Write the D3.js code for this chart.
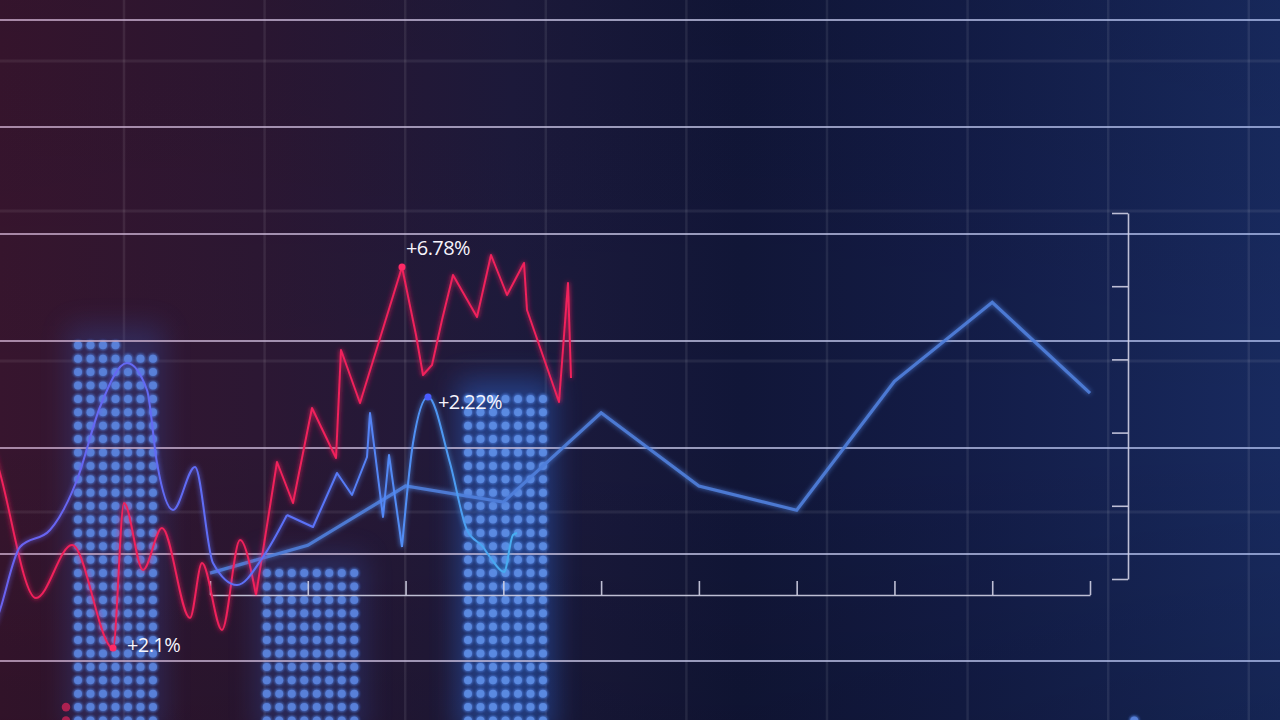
<!DOCTYPE html>
<html><head><meta charset="utf-8">
<script src="https://cdn.jsdelivr.net/npm/d3@7"></script>
<style>html,body{margin:0;padding:0;background:#141838;overflow:hidden}svg{display:block}</style>
</head><body>
<svg id="c" width="1280" height="720"></svg>
<script>
// ---------- data ----------
const periods = ["1","2","3","4","5","6","7","8","9","10"];
const lightValues = [0.08,0.46,1.27,1.05,2.27,1.27,0.94,2.70,3.78,2.54];
const rightTicks = [0,1,2,3,4,5];

// red wave: smooth part then angular part
const redSmoothT = [-0.5,0,3.6,7.2,11.3,12.4,14.3,16.2,19.0,20.2,22.2,24.0,25.6];
const redSmoothV = [4.9,4.54,2.04,3.1,1.04,3.94,2.6,3.44,1.64,2.74,1.4,3.2,2.1];
const redSharpT = [25.6,27.7,29.3,31.2,33.6,34.1,36.0,40.2,41.6,42.3,43.2,44.2,45.3,47.7,49.1,50.7,52.4,52.7,55.9,56.8,57.1];
const redSharpV = [2.1,4.76,3.94,5.84,4.84,7.0,5.94,8.66,7.3,6.5,6.7,7.6,8.5,7.66,8.9,8.1,8.74,7.8,5.96,8.34,6.44];

// blue wave: smooth / angular / smooth
const blueAT = [-0.5,0,2.0,5.0,7.7,10.0,12.7,14.7,15.7,17.3,19.5,21.3,23.7,26.3,28.7];
const blueAV = [1.5,1.8,3.06,3.4,4.4,5.86,6.74,6.2,4.74,3.8,4.66,2.74,2.3,2.86,3.7];
const blueBT = [28.7,31.3,33.7,35.2,36.7,37.0,38.3,38.9,40.2];
const blueBV = [3.7,3.46,4.54,4.1,4.86,5.74,3.66,4.9,3.06];
const blueCT = [40.2,41.3,42.8,45.0,46.7,48.3,49.0,50.4,51.3,51.7];
const blueCV = [3.06,5.14,6.06,4.74,3.4,3.06,2.86,2.56,3.3,3.34];

const peakLabels = [
  {text:"+6.78%", t:40.2, v:8.66, series:"red"},
  {text:"+2.22%", t:42.8, v:6.06, series:"blue"},
  {text:"+2.1%",  t:11.3, v:1.04, series:"red"}
];

const barNames = ["A","B","C","D","E","F"];
const barA = [29,29,29,29,28,28,28];
const barB = [12,12,12,12,12,12,12,12];
const barC = [25,25,25,25,25,25,25];
const barD = [];
const barE = [];
const barF = [0,0,0,0,0,0,0,1];
const redColumn = [2];

// ---------- setup ----------
const W = 1280, H = 720;
const svg = d3.select("#c");
const defs = svg.append("defs");

const bg = defs.append("linearGradient").attr("id","bg").attr("x1","0").attr("x2","1").attr("y1","0").attr("y2","0");
[[0,"#37152e"],[0.2,"#2c1733"],[0.4,"#1d1a3c"],[0.58,"#111638"],[0.75,"#131c47"],[1,"#182a5f"]]
  .forEach(([o,c])=>bg.append("stop").attr("offset",o).attr("stop-color",c));
const vshade = defs.append("linearGradient").attr("id","vs").attr("x1","0").attr("x2","0").attr("y1","0").attr("y2","1");
vshade.append("stop").attr("offset",0).attr("stop-color","#000").attr("stop-opacity",0.05);
vshade.append("stop").attr("offset",0.6).attr("stop-color","#000").attr("stop-opacity",0);
vshade.append("stop").attr("offset",1).attr("stop-color","#000").attr("stop-opacity",0.12);

const hl = defs.append("linearGradient").attr("id","hl").attr("gradientUnits","userSpaceOnUse").attr("x1",0).attr("x2",W).attr("y1",0).attr("y2",0);
hl.append("stop").attr("offset",0).attr("stop-color","#c8a8c8");
hl.append("stop").attr("offset",0.5).attr("stop-color","#c0c0e0");
hl.append("stop").attr("offset",1).attr("stop-color","#a8b8e8");

const bl = defs.append("linearGradient").attr("id","bl").attr("gradientUnits","userSpaceOnUse").attr("x1",0).attr("x2",520).attr("y1",0).attr("y2",0);
bl.append("stop").attr("offset",0).attr("stop-color","#6a62f0");
bl.append("stop").attr("offset",0.6).attr("stop-color","#5a72f8");
bl.append("stop").attr("offset",1).attr("stop-color","#46b0f0");

const blur = defs.append("filter").attr("id","blur").attr("x","-50%").attr("y","-50%").attr("width","200%").attr("height","200%");
blur.append("feGaussianBlur").attr("stdDeviation",14);
const glow = defs.append("filter").attr("id","glow").attr("x","-20%").attr("y","-20%").attr("width","140%").attr("height","140%");
glow.append("feGaussianBlur").attr("in","SourceGraphic").attr("stdDeviation",2.5).attr("result","b");
const gm = glow.append("feMerge");
gm.append("feMergeNode").attr("in","b");
gm.append("feMergeNode").attr("in","SourceGraphic");
const dglow = defs.append("filter").attr("id","dglow").attr("x","-50%").attr("y","-50%").attr("width","200%").attr("height","200%");
dglow.append("feGaussianBlur").attr("in","SourceGraphic").attr("stdDeviation",1.6).attr("result","b");
const dm = dglow.append("feMerge");
dm.append("feMergeNode").attr("in","b");
dm.append("feMergeNode").attr("in","b");

svg.append("rect").attr("width",W).attr("height",H).attr("fill","url(#bg)");
svg.append("rect").attr("width",W).attr("height",H).attr("fill","url(#vs)");

// ---------- scales ----------
const xWave = d3.scaleLinear().domain([0,60]).range([0,600]);
const yWave = d3.scaleLinear().domain([0,10]).range([700,200]);
const xCat = d3.scalePoint().domain(periods).range([210,1090]);
const yRight = d3.scaleLinear().domain([0,5]).range([579,213]);
const xBar = d3.scalePoint().domain(barNames).range([115.5,1090.5]);
const yRow = d3.scaleLinear().domain([0,1]).range([720.5,707.1]);
const colPitch = 12.5;

// ---------- faint grid ----------
const faintV = d3.range(0,9).map(i=>124 + i*140.6);
const faintH = [61,211,361,512];
const grid = svg.append("g");
grid.selectAll(".fv").data(faintV).join("line").attr("x1",d=>d).attr("x2",d=>d).attr("y1",0).attr("y2",H)
  .attr("stroke","#ffffff").attr("stroke-opacity",0.08).attr("stroke-width",2.5);
grid.selectAll(".fh").data(faintH).join("line").attr("x1",0).attr("x2",W).attr("y1",d=>d).attr("y2",d=>d)
  .attr("stroke","#ffffff").attr("stroke-opacity",0.07).attr("stroke-width",3);

// ---------- dot bars ----------
const barsData = [barA,barB,barC,barD,barE,barF];
const barsG = svg.append("g");
barsData.forEach((cols,bi)=>{
  if(!cols.length) return;
  const cx = xBar(barNames[bi]);
  const n = cols.length;
  const maxR = d3.max(cols);
  if(maxR>1){
    barsG.append("rect")
      .attr("x", cx - (n/2)*colPitch - 4).attr("width", n*colPitch + 8)
      .attr("y", yRow(maxR) - 6).attr("height", H - yRow(maxR) + 20)
      .attr("fill", bi===2 ? "#2f6ad8" : "#3558b8").attr("opacity", bi===2?0.45:0.3)
      .attr("filter","url(#blur)");
  }
  const dots = [];
  cols.forEach((r,ci)=>{ for(let k=0;k<r;k++) dots.push({x: cx + (ci-(n-1)/2)*colPitch, k}); });
  const g = barsG.append("g");
  g.append("g").attr("filter","url(#dglow)").selectAll("circle").data(dots).join("circle")
    .attr("cx",d=>d.x).attr("cy",d=>yRow(d.k)).attr("r",4.6)
    .attr("fill", "#4f7ee0").attr("fill-opacity",0.6);
  g.append("g").selectAll("circle").data(dots).join("circle")
    .attr("cx",d=>d.x).attr("cy",d=>yRow(d.k)).attr("r",4.0)
    .attr("fill", bi===2 ? "#5e8ee4" : "#5c84dc").attr("fill-opacity",0.85);
});
// red column
const redDots = [];
redColumn.forEach(r=>{for(let k=0;k<r;k++) redDots.push(k);});
barsG.selectAll(".rd").data(redDots).join("circle")
  .attr("cx", xWave(6.6)).attr("cy", d=>yRow(d)).attr("r",4.3).attr("fill","#e0245a").attr("fill-opacity",0.7);

// ---------- bright horizontal lines ----------
const brightH = [20,127,234,341,448,554,661];
svg.append("g").selectAll("line").data(brightH).join("line")
  .attr("x1",0).attr("x2",W).attr("y1",d=>d).attr("y2",d=>d)
  .attr("stroke","url(#hl)").attr("stroke-opacity",0.78).attr("stroke-width",2.2);

// ---------- axis frame ----------
const axB = svg.append("g").attr("transform","translate(0,595)")
  .call(d3.axisTop(xCat).tickSize(14).tickSizeOuter(0).tickFormat(""));
const axR = svg.append("g").attr("transform","translate(1128,0)")
  .call(d3.axisLeft(yRight).tickValues(rightTicks).tickSize(16).tickSizeOuter(0).tickFormat(""));
[axB,axR].forEach(a=>{
  a.selectAll("path,line").attr("stroke","#d0d0e4").attr("stroke-width",1.6).attr("stroke-opacity",0.9);
});

// ---------- light blue line ----------
const lightLine = d3.line().x((d,i)=>xCat(periods[i])).y(d=>yRight(d));
svg.append("path").datum(lightValues).attr("d",lightLine)
  .attr("fill","none").attr("stroke","#4f80dc").attr("stroke-width",3.2).attr("stroke-opacity",0.9)
  .attr("stroke-linejoin","miter").attr("filter","url(#glow)");

// ---------- waves ----------
const smooth = d3.line().curve(d3.curveMonotoneX).x(d=>xWave(d[0])).y(d=>yWave(d[1]));
const sharp = d3.line().x(d=>xWave(d[0])).y(d=>yWave(d[1]));
const zip = (T,V)=>T.map((t,i)=>[t,V[i]]);
const redG = svg.append("g").attr("filter","url(#glow)");
[[redSmoothT,redSmoothV,smooth],[redSharpT,redSharpV,sharp]].forEach(([T,V,gen])=>{
  redG.append("path").datum(zip(T,V)).attr("d",gen)
    .attr("fill","none").attr("stroke","#f0205c").attr("stroke-width",2).attr("stroke-linejoin","round");
});
const blueG = svg.append("g").attr("filter","url(#glow)");
[[blueAT,blueAV,smooth],[blueBT,blueBV,sharp],[blueCT,blueCV,smooth]].forEach(([T,V,gen])=>{
  blueG.append("path").datum(zip(T,V)).attr("d",gen)
    .attr("fill","none").attr("stroke","url(#bl)").attr("stroke-width",2).attr("stroke-linejoin","round");
});

// markers + labels
const lbl = svg.append("g");
peakLabels.forEach(p=>{
  const x = xWave(p.t), y = yWave(p.v);
  lbl.append("circle").attr("cx",x).attr("cy",y).attr("r",3.5)
    .attr("fill", p.series==="red" ? "#ff2a66" : "#4a5cff");
  let tx, ty;
  if(p.text==="+6.78%"){ tx = x+4; ty = y-12; }
  else if(p.text==="+2.22%"){ tx = x+10; ty = y+12; }
  else { tx = x+14; ty = y+4; }
  lbl.append("text").attr("x",tx).attr("y",ty).text(p.text)
    .attr("font-family","'Open Sans', 'DejaVu Sans', sans-serif").attr("font-size",20).attr("font-weight",400)
    .attr("letter-spacing",-0.6)
    .attr("fill","#f6f4fc");
});
</script>
</body></html>
